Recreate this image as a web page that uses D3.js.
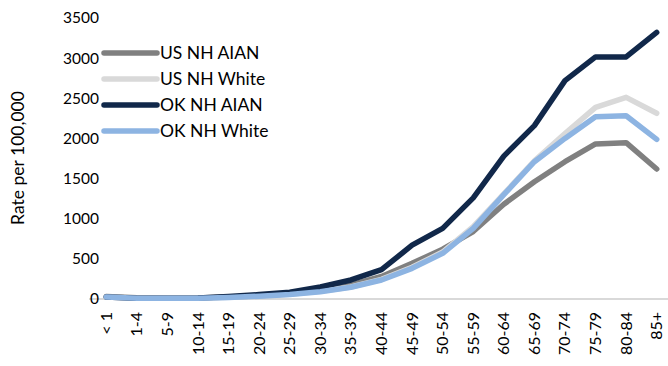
<!DOCTYPE html>
<html>
<head>
<meta charset="utf-8">
<script src="https://cdn.jsdelivr.net/npm/d3@7"></script>
<style>
  html, body { margin: 0; padding: 0; background: #fff; }
  svg { display: block; }
  text { font-family: Lato, "Open Sans", sans-serif; fill: #000; }
</style>
</head>
<body>
<svg id="chart" width="668" height="366"></svg>
<script>
const categories = ["< 1","1-4","5-9","10-14","15-19","20-24","25-29","30-34","35-39","40-44","45-49","50-54","55-59","60-64","65-69","70-74","75-79","80-84","85+"];
const usAian   = [30, 15, 10, 12, 25, 40, 65, 110, 175, 280, 444, 620, 840, 1180, 1460, 1710, 1931, 1947, 1619];
const usWhite  = [25, 10, 8, 10, 22, 38, 58, 95, 150, 245, 395, 585, 900, 1310, 1720, 2060, 2387, 2512, 2313];
const okAian   = [25, 8, 8, 12, 30, 55, 85, 150, 237, 365, 670, 880, 1260, 1780, 2160, 2720, 3015, 3015, 3320];
const okWhite  = [25, 8, 8, 10, 20, 35, 55, 90, 146, 237, 382, 569, 880, 1300, 1710, 2000, 2271, 2283, 1989];
const yTicks = [0, 500, 1000, 1500, 2000, 2500, 3000, 3500];

const seriesNames = ["US NH AIAN", "US NH White", "OK NH AIAN", "OK NH White"];
const seriesColors = ["#808080", "#d9d9d9", "#11284a", "#8db4e2"];
const seriesValues = [usAian, usWhite, okAian, okWhite];

const svg = d3.select("#chart");
const x = d3.scalePoint().domain(categories).range([91, 672]).padding(0.5);
const y = d3.scaleLinear().domain([0, 3500]).range([299, 18]);

// x axis baseline
svg.append("line")
  .attr("x1", 89).attr("x2", 668)
  .attr("y1", y(0)).attr("y2", y(0))
  .attr("stroke", "#d9d9d9").attr("stroke-width", 2);

// y tick labels
svg.append("g").selectAll("text").data(yTicks).join("text")
  .attr("x", 99).attr("y", d => y(d))
  .attr("dy", "0.35em")
  .attr("text-anchor", "end")
  .style("font-size", "15.5px")
  .text(d => d);

// x tick labels (rotated)
svg.append("g").selectAll("text").data(categories).join("text")
  .attr("transform", d => `translate(${x(d) + 5.5},312) rotate(-90)`)
  .attr("text-anchor", "end")
  .style("font-size", "16px")
  .text(d => d);

// y axis title
svg.append("text")
  .attr("transform", "translate(24,158) rotate(-90)")
  .attr("text-anchor", "middle")
  .style("font-size", "17.5px")
  .text("Rate per 100,000");

// lines
const line = d3.line().x((d, i) => x(categories[i])).y(d => y(d));
seriesValues.forEach((vals, k) => {
  svg.append("path")
    .datum(vals)
    .attr("d", line)
    .attr("fill", "none")
    .attr("stroke", seriesColors[k])
    .attr("stroke-width", 5.5)
    .attr("stroke-linejoin", "round")
    .attr("stroke-linecap", "round");
});

// legend
const lg = svg.append("g");
seriesNames.forEach((name, k) => {
  const yy = 53 + k * 26;
  lg.append("line")
    .attr("x1", 104).attr("x2", 157)
    .attr("y1", yy).attr("y2", yy)
    .attr("stroke", seriesColors[k]).attr("stroke-width", 5.5)
    .attr("stroke-linecap", "round");
  lg.append("text")
    .attr("x", 160).attr("y", yy).attr("dy", "0.35em")
    .style("font-size", "17.5px")
    .text(name);
});
</script>
</body>
</html>
